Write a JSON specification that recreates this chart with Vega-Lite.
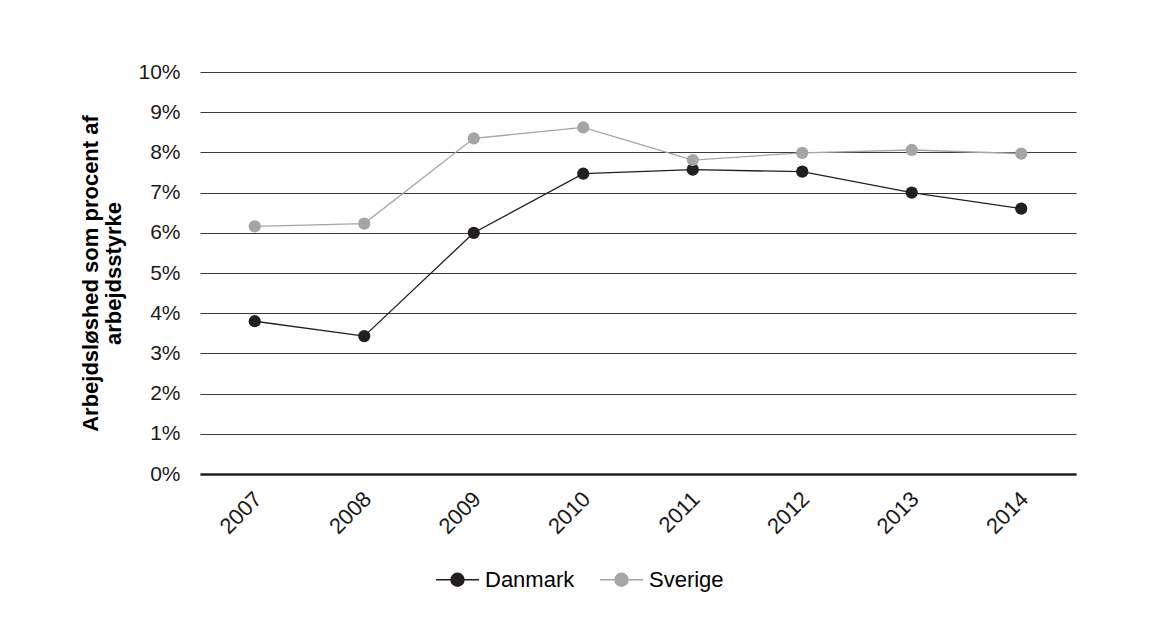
{
  "$schema": "https://vega.github.io/schema/vega-lite/v6.json",
  "autosize": {"type": "none"},
  "padding": {"left": 200, "top": 72, "right": 80, "bottom": 144},
  "width": 876,
  "height": 402,
  "background": "white",
  "data": {
    "values": [
      {"year": "2007", "land": "Danmark", "rate": 0.0380},
      {"year": "2008", "land": "Danmark", "rate": 0.0343},
      {"year": "2009", "land": "Danmark", "rate": 0.0600},
      {"year": "2010", "land": "Danmark", "rate": 0.0747},
      {"year": "2011", "land": "Danmark", "rate": 0.0757},
      {"year": "2012", "land": "Danmark", "rate": 0.0752},
      {"year": "2013", "land": "Danmark", "rate": 0.0700},
      {"year": "2014", "land": "Danmark", "rate": 0.0660},
      {"year": "2007", "land": "Sverige", "rate": 0.0616},
      {"year": "2008", "land": "Sverige", "rate": 0.0623},
      {"year": "2009", "land": "Sverige", "rate": 0.0835},
      {"year": "2010", "land": "Sverige", "rate": 0.0862},
      {"year": "2011", "land": "Sverige", "rate": 0.0781},
      {"year": "2012", "land": "Sverige", "rate": 0.0799},
      {"year": "2013", "land": "Sverige", "rate": 0.0806},
      {"year": "2014", "land": "Sverige", "rate": 0.0797}
    ]
  },
  "mark": {"type": "line", "strokeWidth": 1.3, "point": {"filled": true, "size": 150, "opacity": 1}},
  "encoding": {
    "x": {
      "field": "year",
      "type": "ordinal",
      "scale": {"padding": 0.5},
      "axis": {
        "title": null,
        "labelAngle": -45,
        "labelFontSize": 22,
        "labelFont": "Liberation Sans",
        "labelColor": "#1a1a1a",
        "labelPadding": 14,
        "labelOffset": -4,
        "ticks": false,
        "domain": true,
        "domainColor": "#231f20",
        "domainWidth": 2.5,
        "grid": false
      }
    },
    "y": {
      "field": "rate",
      "type": "quantitative",
      "scale": {"domain": [0, 0.1], "nice": false, "zero": true},
      "axis": {
        "values": [0, 0.01, 0.02, 0.03, 0.04, 0.05, 0.06, 0.07, 0.08, 0.09, 0.1],
        "format": ".0%",
        "title": ["Arbejdsløshed som procent af", "arbejdsstyrke"],
        "titleFont": "Liberation Sans",
        "titleFontSize": 22,
        "titleFontWeight": "bold",
        "titleColor": "#000000",
        "titleLineHeight": 23,
        "titlePadding": 12,
        "labelFontSize": 21,
        "labelFont": "Liberation Sans",
        "labelColor": "#1a1a1a",
        "labelPadding": 20,
        "ticks": false,
        "domain": false,
        "grid": true,
        "gridColor": "#3a3a3a",
        "gridWidth": 1.2,
        "gridOpacity": 1
      }
    },
    "color": {
      "field": "land",
      "type": "nominal",
      "scale": {"domain": ["Danmark", "Sverige"], "range": ["#231f20", "#a5a5a5"]},
      "legend": {
        "title": null,
        "orient": "none",
        "direction": "horizontal",
        "legendX": 235,
        "legendY": 485,
        "padding": 0,
        "symbolType": "M-1,0L-0.3,0M0.3,0L1,0M-0.3,0A0.3,0.3,0,1,0,0.3,0A0.3,0.3,0,1,0,-0.3,0Z",
        "symbolSize": 1849,
        "symbolStrokeWidth": 1.5,
        "labelFontSize": 22,
        "labelFont": "Liberation Sans",
        "labelColor": "#000000",
        "labelOffset": 5,
        "columnPadding": 22
      }
    }
  },
  "config": {
    "view": {"stroke": null},
    "legend": {"symbolOpacity": 1}
  }
}
